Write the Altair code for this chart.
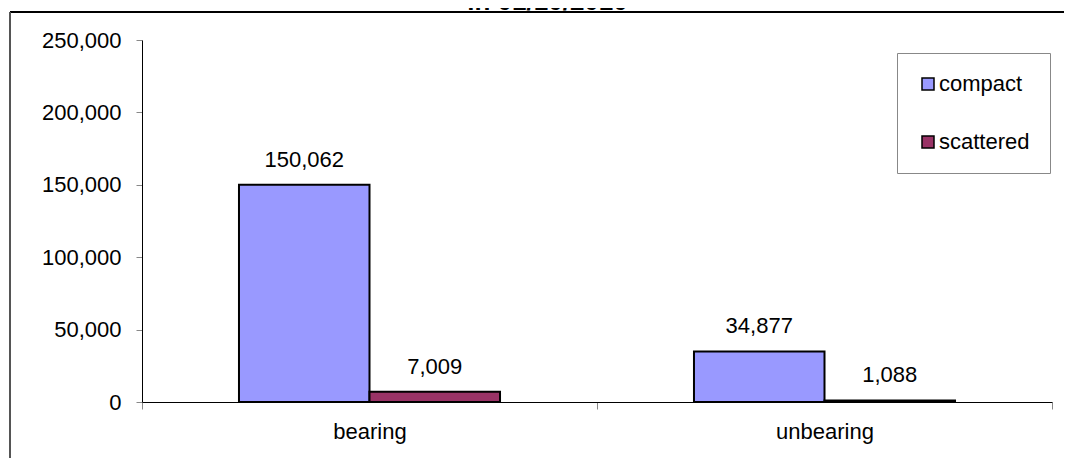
import altair as alt
import pandas as pd

categories = ["bearing", "unbearing"]
series = ["compact", "scattered"]
compact_values = [150062, 34877]
scattered_values = [7009, 1088]
colors = ["#9999FF", "#993366"]
y_ticks = [0, 50000, 100000, 150000, 200000, 250000]
title_text = "in 01/10/2010"

rows = []
for i, c in enumerate(categories):
    rows.append({"category": c, "series": series[0], "value": compact_values[i]})
    rows.append({"category": c, "series": series[1], "value": scattered_values[i]})
df = pd.DataFrame(rows)
title_df = pd.DataFrame({"t": [title_text]})
frame_df = pd.DataFrame({"k": [0]})

FONT = "Liberation Sans"

x_enc = alt.X(
    "category:N", sort=categories,
    scale=alt.Scale(paddingInner=0, paddingOuter=0),
    axis=alt.Axis(title=None, labelAngle=0, labelFontSize=22, labelFont=FONT,
                  labelColor="black", domainColor="black", domainWidth=1,
                  tickColor="#888", tickSize=7, tickBand="extent",
                  labelPadding=12, grid=False),
)
xo_enc = alt.XOffset("series:N", sort=series,
                     scale=alt.Scale(paddingInner=0, paddingOuter=0.743))
y_enc = alt.Y(
    "value:Q",
    scale=alt.Scale(domain=[0, 250000], nice=False),
    axis=alt.Axis(title=None, values=y_ticks,
                  labelExpr="format(datum.value, ',')", labelFontSize=22,
                  labelFont=FONT, labelColor="black", domainColor="black",
                  tickColor="#888", tickSize=6, labelPadding=15, grid=False),
)

bars = alt.Chart(df).mark_bar(stroke="black", strokeWidth=2).encode(
    x=x_enc,
    xOffset=xo_enc,
    y=y_enc,
    color=alt.Color(
        "series:N",
        scale=alt.Scale(domain=series, range=colors),
        legend=alt.Legend(
            title=None, orient="none", legendX=755, legendY=13,
            direction="vertical", padding=20, rowPadding=36,
            symbolType="square", symbolSize=144, symbolStrokeColor="black",
            symbolStrokeWidth=1.5, symbolOpacity=1,
            labelFontSize=22, labelFont=FONT, labelColor="black", labelOffset=0,
            strokeColor="#888", fillColor="white",
        ),
    ),
)

labels = alt.Chart(df).mark_text(
    baseline="alphabetic", dy=-18, fontSize=22, font=FONT, color="black"
).encode(
    x=x_enc,
    xOffset=xo_enc,
    y=y_enc,
    text=alt.Text("value:Q", format=","),
)

title = alt.Chart(title_df).mark_text(
    baseline="alphabetic", align="center", fontSize=26, fontWeight="bold",
    font=FONT, color="black"
).encode(x=alt.value(405.5), y=alt.value(-30), text="t:N")

top_border = alt.Chart(frame_df).mark_rule(color="black", strokeWidth=2).encode(
    x=alt.value(-132), x2=alt.value(940), y=alt.value(-28)
)
left_border = alt.Chart(frame_df).mark_rule(color="#555", strokeWidth=2).encode(
    x=alt.value(-132), y=alt.value(-28), y2=alt.value(440)
)

chart = alt.layer(bars, labels, title, top_border, left_border).properties(
    width=910, height=362,
    autosize=alt.AutoSizeParams(type="none"),
    padding={"left": 134, "top": 32, "right": 12, "bottom": 56},
    background="white",
).configure_view(stroke=None)

chart.save("out.html", embed_options={"renderer": "svg", "actions": False})
